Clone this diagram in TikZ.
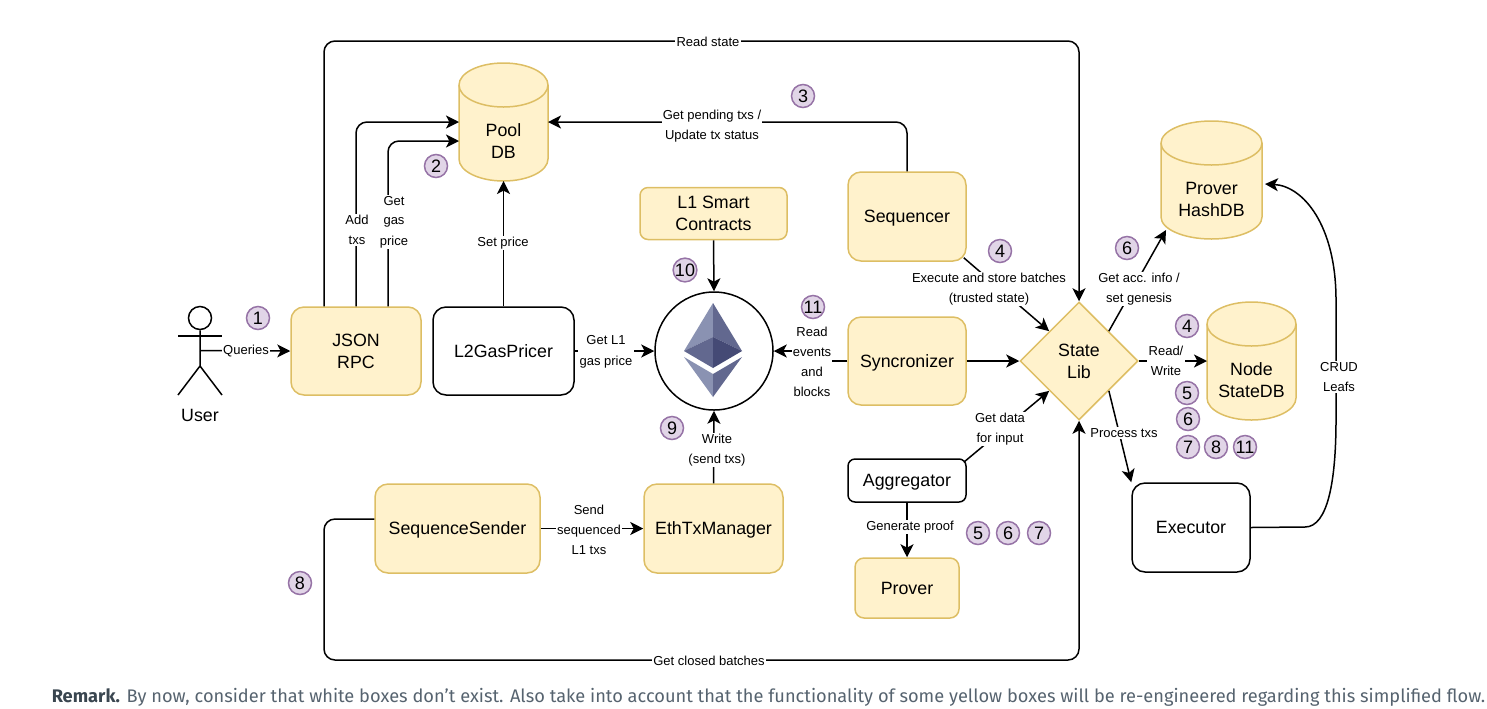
\documentclass[tikz,border=0pt]{standalone}
\usepackage{fontspec}
\usepackage{xcolor}
\usetikzlibrary{shapes.geometric, arrows.meta, positioning}
\setmainfont{Liberation Sans}
\newfontfamily\remarkfont{Fira Sans}
\definecolor{boxfill}{HTML}{FFF2CC}
\definecolor{boxline}{HTML}{DDBE64}
\definecolor{markfill}{HTML}{E1D5E7}
\definecolor{markline}{HTML}{9673A6}
\definecolor{remarkgray}{HTML}{56636F}
\definecolor{remarkdark}{HTML}{3A4650}
\definecolor{ethlight}{HTML}{8A92B2}
\definecolor{ethmid}{HTML}{62688F}
\definecolor{ethdark}{HTML}{454A75}
% barrel drawn over the extent of a named node: name, half width
\newcommand{\dbbarrel}[2]{
    \draw[draw=boxline, fill=boxfill] ([yshift=-11pt]#1.north west) arc[start angle=180, end angle=0, x radius=#2, y radius=11pt] -- ([yshift=11pt]#1.south east) arc[start angle=0, end angle=-180, x radius=#2, y radius=11pt] -- cycle;
    \draw[draw=boxline] ([yshift=-11pt]#1.north west) arc[start angle=180, end angle=360, x radius=#2, y radius=11pt];
}

\begin{document}
\begin{tikzpicture}[
    x=0.5pt, y=-0.5pt,
    line width=0.75pt,
    boxtext/.style={align=center, font=\fontsize{8.9}{11}\selectfont, inner sep=0pt},
    lowtext/.style={execute at begin node={\rule[-2pt]{0pt}{10pt}}},
    yellowbox/.style={draw=boxline, fill=boxfill, rounded corners=6.5pt, boxtext},
    whitebox/.style={draw=black, fill=white, rounded corners=6.5pt, boxtext},
    dbase/.style={inner sep=0pt, outer sep=0pt, minimum height=59pt},
    flow/.style={-{Stealth[length=6.5pt, width=6.5pt, inset=1.7pt]}, black},
    edgelabel/.style={fill=white, align=center, inner sep=0.6pt, yshift=-0.4pt, font=\fontsize{6.5}{10}\selectfont},
    stepmark/.style={circle, draw=markline, fill=markfill, minimum size=11.5pt, inner sep=0pt, font=\fontsize{9}{9}\selectfont}
]
    \useasboundingbox (0,0) rectangle (1487,708);

    % Actor
    \node[circle, draw, minimum size=11.5pt, inner sep=0pt] (userhead) at (200,318) {};
    \coordinate (userhip) at (200,350.5);
    \coordinate (userbase) at (200,366);
    \draw (userhead.south) -- (userbase) -- (178,395);
    \draw (userbase) -- (222,395);
    \draw (178,336) -- (222,336);
    \node[boxtext] (usertext) at (200,415) {User};

    % Boxes
    \node[yellowbox, minimum width=65pt, minimum height=44pt] (jsonrpc) at (356,351) {JSON\\RPC};
    \node[whitebox, minimum width=70.5pt, minimum height=44pt] (gaspricer) at (503.5,351) {L2GasPricer};
    \node[yellowbox, minimum width=73.5pt, minimum height=26pt, rounded corners=4pt, yshift=-0.25pt] (contracts) at (713.5,213) {L1 Smart\\Contracts};
    \node[yellowbox, lowtext, minimum width=59pt, minimum height=44.5pt] (sequencer) at (907,216.5) {Sequencer};
    \node[yellowbox, lowtext, minimum width=59pt, minimum height=44pt] (syncronizer) at (907,361) {Syncronizer};
    \node[whitebox, lowtext, minimum width=59pt, minimum height=21.5pt, rounded corners=3.5pt] (aggregator) at (907,480.5) {Aggregator};
    \node[yellowbox, minimum width=52pt, minimum height=30pt, rounded corners=4.5pt] (prover) at (907,588) {Prover};
    \node[yellowbox, lowtext, minimum width=82.5pt, minimum height=44.5pt] (seqsender) at (457.5,528.5) {SequenceSender};
    \node[yellowbox, lowtext, minimum width=69.5pt, minimum height=44.5pt] (ethtx) at (713.5,528.5) {EthTxManager};
    \node[whitebox, minimum width=59pt, minimum height=44.5pt] (executor) at (1191,527.5) {Executor};
    \node[diamond, aspect=1, draw=boxline, fill=boxfill, boxtext, minimum width=59pt, minimum height=59pt] (statelib) at (1079,361) {State\\Lib};

    % Databases
    \node[dbase, minimum width=44.5pt] (pooldb) at (503.5,122) {};
    \dbbarrel{pooldb}{22.25pt}
    \node[boxtext] (pooltext) at (503.5,141) {Pool\\DB};
    \node[dbase, minimum width=50.5pt] (hashdb) at (1211.5,180) {};
    \dbbarrel{hashdb}{25.25pt}
    \node[boxtext] (hashtext) at (1211.5,199) {Prover\\HashDB};
    \node[dbase, minimum width=44.5pt] (statedb) at (1251.5,361) {};
    \dbbarrel{statedb}{22.25pt}
    \node[boxtext] (statetext) at (1251.5,380) {Node\\StateDB};

    % Ethereum
    \node[circle, draw, fill=white, minimum size=59pt, inner sep=0pt] (ethereum) at (714,351) {};
    \fill[ethlight] (713,303) -- (684,351) -- (713,337) -- cycle;
    \fill[ethmid] (713,303) -- (742,351) -- (713,337) -- cycle;
    \fill[ethmid] (684,351) -- (713,337) -- (713,368) -- cycle;
    \fill[ethdark] (742,351) -- (713,337) -- (713,368) -- cycle;
    \fill[ethlight] (684,357) -- (713,374) -- (713,397) -- cycle;
    \fill[ethmid] (742,357) -- (713,374) -- (713,397) -- cycle;

    % Turning points
    \coordinate (readtop) at (700,41);
    \coordinate (closedcorner) at (324,660);
    \coordinate (syncturn) at (812,356);
    \coordinate (crudlow) at (1305,527);
    \coordinate (crudmid) at (1336,420);
    \coordinate (crudhigh) at (1336,300);

    % Connectors
    \draw[flow] (userhip) -- (jsonrpc.west);
    \draw[flow, rounded corners=5.5pt] (jsonrpc.north) |- (pooldb.west);
    \draw[flow, rounded corners=5.5pt] ([xshift=16pt]jsonrpc.north) |- ([yshift=-9.5pt]pooldb.west);
    \draw[flow, rounded corners=5.5pt] ([xshift=-16pt]jsonrpc.north) |- (readtop) -| (statelib.north);
    \draw[flow, rounded corners=5.5pt] ([yshift=4.75pt]seqsender.west) -| (closedcorner) -| (statelib.south);
    \draw[flow] (gaspricer.north) -- (pooldb.south);
    \draw[flow] (gaspricer.east) -- (ethereum.west);
    \draw[flow, rounded corners=5.5pt] (sequencer.north) |- (pooldb.east);
    \draw[flow] (contracts.south) -- (ethereum.north);
    \draw[flow] (syncronizer.west) -| (syncturn) |- (ethereum.east);
    \draw[flow] (ethtx.north) -- (ethereum.south);
    \draw[flow] (seqsender.east) -- (ethtx.west);
    \draw[flow] ([xshift=-1.5pt, yshift=2pt]sequencer.south east) -- (statelib.north west);
    \draw[flow] (syncronizer.east) -- (statelib.west);
    \draw[flow] ([xshift=-1.5pt, yshift=-2pt]aggregator.north east) -- (statelib.south west);
    \draw[flow] (aggregator.south) -- (prover.north);
    \draw[flow] (statelib.north east) -- ([xshift=-22.75pt, yshift=-25pt]hashdb.center);
    \draw[flow] (statelib.east) -- (statedb.west);
    \draw[flow] (statelib.south east) -- (executor.north west);
    \draw[flow] (executor.east) -- (crudlow) .. controls (1328,527) and (1336,480) .. (crudmid) -- (crudhigh) .. controls (1336,225) and (1303,186) .. ([xshift=1.5pt, yshift=-2pt]hashdb.east);

    % Connector labels
    \node[edgelabel] (lbqueries) at (246,350) {Queries};
    \node[edgelabel] (lbadd) at (357,229) {Add\\txs};
    \node[edgelabel] (lbgas) at (394,221) {Get\\gas\\price};
    \node[edgelabel] (lbset) at (503,242) {Set price};
    \node[edgelabel] (lbread) at (708,41) {Read state};
    \node[edgelabel] (lbpending) at (712,125) {Get pending txs /\\Update tx status};
    \node[edgelabel] (lbgetl) at (606,351) {Get L1\\gas price};
    \node[edgelabel] (lbevents) at (812,361) {Read\\events\\and\\blocks};
    \node[edgelabel] (lbwrite) at (717,449) {Write\\(send txs)};
    \node[edgelabel] (lbexecute) at (989,288) {Execute and store batches\\(trusted state)};
    \node[edgelabel] (lbdata) at (1000,428) {Get data\\for input};
    \node[edgelabel] (lbproof) at (910,526) {Generate proof};
    \node[edgelabel] (lbacc) at (1139,288) {Get acc. info /\\set genesis};
    \node[edgelabel] (lbrw) at (1166,360) {Read/\\Write};
    \node[edgelabel] (lbprocess) at (1124,432) {Process txs};
    \node[edgelabel] (lbcrud) at (1339,376) {CRUD\\Leafs};
    \node[edgelabel] (lbsend) at (589,529) {Send\\sequenced\\L1 txs};
    \node[edgelabel] (lbclosed) at (709,660) {Get closed batches};

    % Step marks
    \node[stepmark] (markone) at (258,318) {1};
    \node[stepmark] (marktwo) at (436,166) {2};
    \node[stepmark] (markthree) at (803,96) {3};
    \node[stepmark] (markfoura) at (1000,251) {4};
    \node[stepmark] (marksixa) at (1127,248) {6};
    \node[stepmark] (markfourb) at (1187,326) {4};
    \node[stepmark] (markfiveb) at (1187,393) {5};
    \node[stepmark] (marksixb) at (1188,419) {6};
    \node[stepmark] (marksevenb) at (1188,447) {7};
    \node[stepmark] (markeight) at (1216,447) {8};
    \node[stepmark] (markelevenb) at (1245,447) {11};
    \node[stepmark] (markfive) at (978,533) {5};
    \node[stepmark] (marksix) at (1008,533) {6};
    \node[stepmark] (markseven) at (1039,533) {7};
    \node[stepmark] (markeightb) at (300,583) {8};
    \node[stepmark] (markten) at (685,270) {10};
    \node[stepmark] (markeleven) at (813,307) {11};
    \node[stepmark] (marknine) at (672,428) {9};

    % Remark
    \node[anchor=west, inner sep=0pt, text=remarkgray, font=\remarkfont\fontsize{9.115}{11}\selectfont] (remark) at (51,697) {{\bfseries\color{remarkdark}Remark.} By now, consider that white boxes don’t exist. Also take into account that the functionality of some yellow boxes will be re-engineered regarding this simplified flow.};
\end{tikzpicture}
\end{document}
